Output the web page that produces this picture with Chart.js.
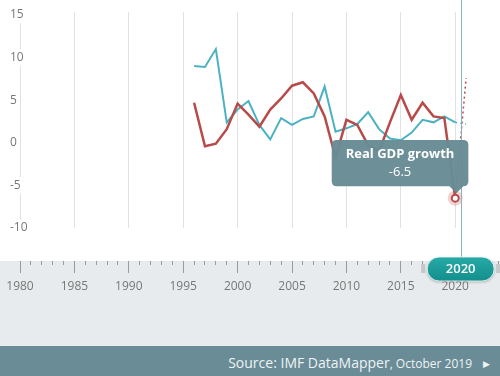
<!DOCTYPE html>
<html><head><meta charset="utf-8">
<script src="https://cdn.jsdelivr.net/npm/chart.js@4.4.0/dist/chart.umd.min.js"></script>
<style>
html,body{margin:0;padding:0;background:#fff;}
#wrap{position:relative;width:500px;height:376px;overflow:hidden;font-family:'Open Sans',sans-serif;}
#c{position:absolute;left:0;top:0;}
#footer{position:absolute;left:0;top:346px;width:500px;height:30px;background:#6a8c96;color:#eef3f5;text-align:right;box-sizing:border-box;padding-right:10px;padding-top:2px;line-height:30px;font-size:14px;white-space:nowrap;}
#footer .d{font-size:12px;}
#footer .arr{font-size:9px;margin-left:11px;vertical-align:1px;}
</style></head><body>
<div id="wrap"><canvas id="c" width="500" height="376"></canvas>
<div id="footer">Source: IMF DataMapper<span class="d">, October 2019</span><span class="arr">&#9654;</span></div></div>
<script>
const years = [1996,1997,1998,1999,2000,2001,2002,2003,2004,2005,2006,2007,2008,2009,2010,2011,2012,2013,2014,2015,2016,2017,2018,2019,2020,2021];
const gdpGrowth = [4.7,-0.4,-0.1,1.6,4.6,3.3,1.9,3.9,5.2,6.7,7.1,5.8,3.1,-1.7,2.7,2.1,-0.3,-1.0,2.4,5.6,2.7,4.7,3.1,2.9,-6.5,7.6];
const inflation = [9.0,8.9,11.0,2.4,3.9,4.9,2.1,0.4,2.9,2.1,2.8,3.1,6.6,1.3,1.7,2.2,3.6,1.6,0.5,0.3,1.2,2.7,2.4,3.1,2.4,2.2];
const seriesNames = ['Real GDP growth','Inflation rate, average consumer prices'];
const lastActualYear = 2020;
const selectedYear = 2020;
const xRange = [1980, 2024];
const yRange = [-10, 15.35];

const RED = '#b84b49', TEAL = '#4cb2c2';
const activeIdx = years.indexOf(selectedYear);
const toPts = vals => years.map((yr,i)=>({x:yr, y:vals[i]}));
const projDash = ctx => years[ctx.p1DataIndex] > lastActualYear ? [2,3] : undefined;
const projWidth = (w) => ctx => years[ctx.p1DataIndex] > lastActualYear ? 1.5 : w;

const decor = {
  id:'decor',
  beforeDraw(chart){
    const {ctx} = chart; const xb = chart.scales.x2;
    ctx.save(); ctx.fillStyle = '#e8ebed';
    ctx.fillRect(0, xb.top, chart.width, xb.bottom - xb.top);
    ctx.restore();
  },
  beforeDatasetsDraw(chart){
    const {ctx} = chart; const pt = chart.getDatasetMeta(0).data[activeIdx];
    ctx.save(); ctx.beginPath(); ctx.arc(pt.x, pt.y, 7.5, 0, Math.PI*2);
    ctx.fillStyle = 'rgba(205,110,110,0.3)'; ctx.fill(); ctx.restore();
  },
  afterDatasetsDraw(chart){
    const {ctx} = chart; const xb = chart.scales.x2;
    const x = Math.round(chart.scales.x.getPixelForValue(selectedYear + 0.5)) + 0.5;
    ctx.save(); ctx.strokeStyle = '#86b1c6'; ctx.lineWidth = 1;
    ctx.beginPath(); ctx.moveTo(x, 0); ctx.lineTo(x, xb.top - 4); ctx.stroke(); ctx.restore();
  },
  afterDraw(chart){
    const {ctx} = chart; const xb = chart.scales.x2;
    const cx = chart.scales.x.getPixelForValue(selectedYear + 0.5);
    const w = 67, h = 24, top = xb.top - 4, left = cx - w/2;
    ctx.save();
    ctx.fillStyle = '#c4c8ca';
    ctx.fillRect(left - 6, xb.top + 3, 4, 9);
    ctx.fillRect(left + w + 2, xb.top + 3, 4, 9);
    ctx.shadowColor = 'rgba(0,0,0,0.3)'; ctx.shadowBlur = 3; ctx.shadowOffsetY = 1;
    const g = ctx.createLinearGradient(0, top, 0, top + h);
    g.addColorStop(0, '#27aaa6'); g.addColorStop(1, '#128f8c');
    ctx.fillStyle = g;
    ctx.beginPath(); ctx.roundRect(left, top, w, h, h/2); ctx.fill();
    ctx.shadowColor = 'transparent';
    ctx.strokeStyle = 'rgba(255,255,255,0.8)'; ctx.lineWidth = 1; ctx.stroke();
    ctx.fillStyle = '#fff'; ctx.font = '600 13px "Open Sans"'; ctx.textAlign = 'center'; ctx.textBaseline = 'middle';
    ctx.fillText(String(selectedYear), cx, top + h/2 + 0.5);
    ctx.restore();
  }
};

const chart = new Chart(document.getElementById('c'), {
  type: 'line',
  data: { datasets: [
    { label: seriesNames[0], data: toPts(gdpGrowth), borderColor: RED, borderWidth: 2.5, tension: 0,
      pointRadius: ctx => ctx.dataIndex === activeIdx ? 3.5 : 0, pointBackgroundColor: '#fff', pointBorderColor: RED, pointBorderWidth: 2,
      segment: { borderDash: projDash, borderWidth: projWidth(2.5) } },
    { label: seriesNames[1], data: toPts(inflation), borderColor: TEAL, borderWidth: 2, tension: 0, pointRadius: 0,
      segment: { borderDash: projDash, borderWidth: projWidth(2) } }
  ]},
  options: {
    responsive: false, animation: false, events: [],
    layout: { padding: { left: 20, right: 0, top: 12, bottom: 30 } },
    scales: {
      x: { type: 'linear', min: xRange[0], max: xRange[1], position: 'bottom', weight: 0,
        ticks: { display: false, stepSize: 1, includeBounds: false, autoSkip: false },
        grid: { drawTicks: false, color: ctx => (ctx.tick && ctx.tick.value % 5 === 0) ? '#e2e2e2' : 'rgba(0,0,0,0)', lineWidth: 1 },
        border: { display: false },
        afterFit: s => { s.height = 33; s.paddingRight = 0; } },
      x2: { type: 'linear', min: xRange[0], max: xRange[1], position: 'bottom', weight: 1,
        ticks: { stepSize: 1, includeBounds: false, autoSkip: false, maxRotation: 0, padding: 6, color: '#777',
          font: { family: 'Open Sans', size: 12 },
          callback: v => v % 5 === 0 ? String(v) : '' },
        grid: { drawOnChartArea: false, tickLength: 12, tickColor: '#9a9a9a', tickWidth: 1,
          tickBorderDash: ctx => (ctx.tick && ctx.tick.value % 5 === 0) ? [] : [4, 20] },
        border: { display: false },
        afterFit: s => { s.height = 85; s.paddingRight = 0; } },
      y: { type: 'linear', min: yRange[0], max: yRange[1], position: 'left',
        ticks: { stepSize: 5, includeBounds: false, mirror: true, padding: -10, z: 1, color: '#777',
          font: { family: 'Open Sans', size: 12 },
          showLabelBackdrop: true, backdropColor: '#fff', backdropPadding: 1 },
        grid: { display: false, drawTicks: false },
        border: { display: false },
        afterFit: s => { s.width = 0; } }
    },
    plugins: {
      legend: { display: false },
      tooltip: {
        enabled: true, xAlign: 'right', yAlign: 'bottom', displayColors: false,
        backgroundColor: 'rgba(104,139,149,0.97)', titleColor: '#fff', bodyColor: '#fff',
        titleFont: { family: 'Open Sans', size: 13, weight: 'bold' }, bodyFont: { family: 'Open Sans', size: 13 },
        titleAlign: 'center', bodyAlign: 'center', titleMarginBottom: 2,
        padding: { top: 7, bottom: 6, left: 14, right: 14 },
        caretSize: 7, caretPadding: 5, cornerRadius: 5,
        callbacks: {
          title: items => items[0].dataset.label,
          label: item => String(item.parsed.y)
        }
      }
    }
  },
  plugins: [decor]
});
const p = chart.getDatasetMeta(0).data[activeIdx];
chart.tooltip.setActiveElements([{datasetIndex: 0, index: activeIdx}], {x: p.x, y: p.y});
chart.update();
</script>
</body></html>
